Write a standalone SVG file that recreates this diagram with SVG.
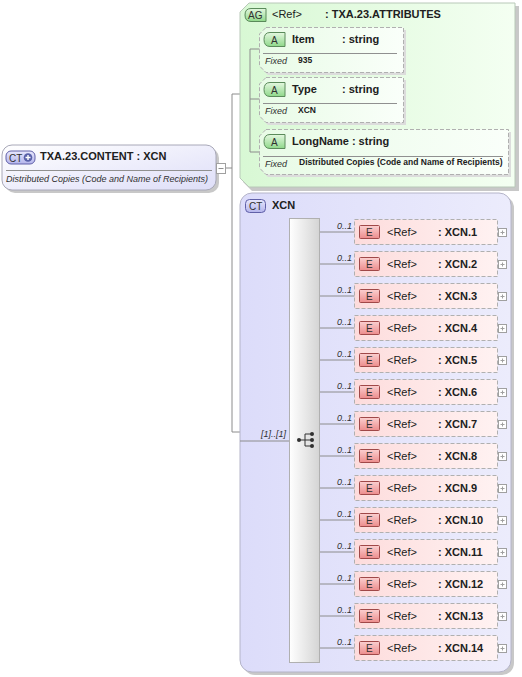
<svg xmlns="http://www.w3.org/2000/svg" width="522" height="677" viewBox="0 0 522 677">
<defs>
<linearGradient id="gMain" x1="0" y1="0" x2="1" y2="1"><stop offset="0" stop-color="#ffffff"/><stop offset="1" stop-color="#dedef8"/></linearGradient>
<linearGradient id="gCT" x1="0" y1="0" x2="1" y2="0"><stop offset="0" stop-color="#dcdcfa"/><stop offset="1" stop-color="#ececfc"/></linearGradient>
<linearGradient id="gAG" x1="0" y1="0" x2="1" y2="0"><stop offset="0" stop-color="#d8f8d4"/><stop offset="1" stop-color="#f4fff2"/></linearGradient>
<linearGradient id="gEl" x1="0" y1="0" x2="1" y2="0"><stop offset="0" stop-color="#fddcdc"/><stop offset="1" stop-color="#fff2f2"/></linearGradient>
<linearGradient id="gAttr" x1="0" y1="0" x2="1" y2="0"><stop offset="0" stop-color="#e8fbe6"/><stop offset="1" stop-color="#fafffa"/></linearGradient>
<linearGradient id="gBadgeA" x1="0" y1="0" x2="0" y2="1"><stop offset="0" stop-color="#e4f8e0"/><stop offset="1" stop-color="#8fd88a"/></linearGradient>
<linearGradient id="gBadgeE" x1="0" y1="0" x2="0" y2="1"><stop offset="0" stop-color="#fbd0d0"/><stop offset="1" stop-color="#ec8c8c"/></linearGradient>
<linearGradient id="gBadgeCT" x1="0" y1="0" x2="0" y2="1"><stop offset="0" stop-color="#e8e8fc"/><stop offset="1" stop-color="#b4b4ec"/></linearGradient>
<linearGradient id="gSeq" x1="0" y1="0" x2="1" y2="0"><stop offset="0" stop-color="#ffffff"/><stop offset="1" stop-color="#d4d4d4"/></linearGradient>
</defs>
<style>
text{font-family:"Liberation Sans",Arial,sans-serif;fill:#202020}
.b{font-weight:bold;font-size:11px}
.r{font-size:11px}
.it{font-style:italic;font-size:9px;fill:#303030}
.fv{font-weight:bold;font-size:8.5px}
.card{font-style:italic;font-size:9px;fill:#303030}
.ln{stroke:#8c8c8c;stroke-width:1;fill:none}
.sh{fill:#c8c8c8}
.elb{fill:url(#gEl);stroke:#b0b0b0;stroke-dasharray:4 2}
.atb{fill:url(#gAttr);stroke:#b0b0b0;stroke-dasharray:4 2}
.sep{stroke:#909090;stroke-width:1}
.bA{fill:url(#gBadgeA);stroke:#5a8a5a}
.bE{fill:url(#gBadgeE);stroke:#a04848}
.bCT{fill:url(#gBadgeCT);stroke:#6060a8}
.pl{fill:#ffffff;stroke:#a0a0a0}
.bt{font-size:10px;fill:#303030}
</style>

<g id="connectors">
<line class="ln" x1="225" y1="168" x2="232" y2="168"/>
<line class="ln" x1="232" y1="94" x2="232" y2="432"/>
<line class="ln" x1="232" y1="94" x2="250" y2="94"/>
<line class="ln" x1="232" y1="432" x2="240" y2="432"/>
</g>

<g id="main">
<rect class="sh" x="5" y="148" width="214" height="45" rx="10"/>
<rect x="2" y="145" width="214" height="45" rx="10" fill="url(#gMain)" stroke="#a8a8b8"/>
<rect class="bCT" x="6" y="151" width="29" height="13" rx="5"/>
<text x="9" y="161.5" class="bt">CT</text>
<circle cx="28" cy="157.5" r="4.3" fill="#5860a8"/>
<path d="M25.5 157.5h5M28 155v5" stroke="#ffffff" stroke-width="1.4"/>
<text x="40" y="160" class="b">TXA.23.CONTENT : XCN</text>
<line class="sep" x1="6" y1="170.5" x2="212" y2="170.5"/>
<text x="6" y="182" class="it">Distributed Copies (Code and Name of Recipients)</text>
<rect class="pl" x="216.5" y="163.5" width="9" height="10"/>
<line x1="218.5" y1="168.5" x2="223.5" y2="168.5" stroke="#909090"/>
</g>

<g id="attrGroup">
<path class="sh" d="M252 6H519V191H252L243 182V15Z"/>
<path d="M249 3H515V187H249L240 178V12Z" fill="url(#gAG)" stroke="#b8c8b8"/>
<path class="bA" d="M251 8.5H266V21.5H251Q245 21.5 245 15Q245 8.5 251 8.5Z"/>
<text x="248" y="19" class="bt">AG</text>
<text x="272" y="18" class="r">&lt;Ref&gt;</text>
<text x="325" y="18" class="b">: TXA.23.ATTRIBUTES</text>
<line class="ln" x1="250" y1="49" x2="250" y2="152"/>
<line class="ln" x1="250" y1="49" x2="260" y2="49"/>
<line class="ln" x1="250" y1="99" x2="260" y2="99"/>
<line class="ln" x1="250" y1="152" x2="260" y2="152"/>
</g>

<g id="attrItem">
<path d="M268 30H406V75H268L261 68V37Z" fill="#dcdcdc"/>
<path class="atb" d="M266 27.5H403.5V72.5H266L259.5 66V34Z"/>
<path class="bA" d="M270 32.5H285V46.5H270Q264 46.5 264 39.5Q264 32.5 270 32.5Z"/>
<text x="271" y="44" class="bt">A</text>
<text x="292" y="43" class="b">Item</text>
<text x="342" y="43" class="b">: string</text>
<line class="sep" x1="263" y1="53.5" x2="397" y2="53.5"/>
<text x="265" y="64" class="it">Fixed</text>
<text x="298" y="63" class="fv">935</text>
</g>

<g id="attrType">
<path d="M268 80H406V125H268L261 118V87Z" fill="#dcdcdc"/>
<path class="atb" d="M266 77.5H403.5V122.5H266L259.5 116V84Z"/>
<path class="bA" d="M270 82.5H285V96.5H270Q264 96.5 264 89.5Q264 82.5 270 82.5Z"/>
<text x="271" y="94" class="bt">A</text>
<text x="292" y="93" class="b">Type</text>
<text x="342" y="93" class="b">: string</text>
<line class="sep" x1="263" y1="103.5" x2="397" y2="103.5"/>
<text x="265" y="114" class="it">Fixed</text>
<text x="298" y="113" class="fv">XCN</text>
</g>

<g id="attrLongName">
<path d="M268 132H511V177H268L261 170V139Z" fill="#dcdcdc"/>
<path class="atb" d="M266 129.5H508.5V174.5H266L259.5 168V136Z"/>
<path class="bA" d="M270 134.5H285V148.5H270Q264 148.5 264 141.5Q264 134.5 270 134.5Z"/>
<text x="271" y="146" class="bt">A</text>
<text x="292" y="145" class="b">LongName : string</text>
<line class="sep" x1="263" y1="156.5" x2="503" y2="156.5"/>
<text x="265" y="167" class="it">Fixed</text>
<text x="299" y="165" class="fv">Distributed Copies (Code and Name of Recipients)</text>
</g>

<g id="ctXCN">
<rect class="sh" x="243" y="196" width="271" height="479" rx="12"/>
<rect x="240" y="193" width="271" height="479" rx="12" fill="url(#gCT)" stroke="#b4b4c8"/>
<rect class="bCT" x="245.5" y="199.5" width="20" height="13" rx="4"/>
<text x="249" y="210" class="bt">CT</text>
<text x="272" y="209" class="b">XCN</text>
<line class="ln" x1="240" y1="441" x2="290" y2="441"/>
<text x="286" y="437" class="card" text-anchor="end">[1]..[1]</text>
</g>

<g id="sequence">
<rect x="289.5" y="218.5" width="30" height="444" fill="url(#gSeq)" stroke="#b0b0b0"/>
<circle cx="299" cy="440" r="2" fill="#303030"/>
<path d="M299 440H305M305 434V446M305 434H311M305 440H311M305 446H311" stroke="#303030" stroke-width="1"/>
<circle cx="312" cy="434" r="2" fill="#303030"/>
<circle cx="312" cy="440" r="2" fill="#303030"/>
<circle cx="312" cy="446" r="2" fill="#303030"/>
</g>

<g id="elementRows">
<g id="xcn1" transform="translate(0,0)"><line class="ln" x1="320" y1="232" x2="355" y2="232"/><text x="352" y="229" class="card" text-anchor="end">0..1</text><rect class="elb" x="354.5" y="219.5" width="143" height="25"/><rect class="bE" x="359.5" y="225.5" width="20" height="13" rx="1"/><text x="366" y="236" class="bt">E</text><text x="387" y="236" class="r">&lt;Ref&gt;</text><text x="438" y="236" class="b">: XCN.1</text><rect class="pl" x="498.5" y="228.5" width="8" height="8"/><path d="M500.5 232.5h4M502.5 230.5v4" stroke="#a0a0a0"/></g>
<g id="xcn2" transform="translate(0,32)"><line class="ln" x1="320" y1="232" x2="355" y2="232"/><text x="352" y="229" class="card" text-anchor="end">0..1</text><rect class="elb" x="354.5" y="219.5" width="143" height="25"/><rect class="bE" x="359.5" y="225.5" width="20" height="13" rx="1"/><text x="366" y="236" class="bt">E</text><text x="387" y="236" class="r">&lt;Ref&gt;</text><text x="438" y="236" class="b">: XCN.2</text><rect class="pl" x="498.5" y="228.5" width="8" height="8"/><path d="M500.5 232.5h4M502.5 230.5v4" stroke="#a0a0a0"/></g>
<g id="xcn3" transform="translate(0,64)"><line class="ln" x1="320" y1="232" x2="355" y2="232"/><text x="352" y="229" class="card" text-anchor="end">0..1</text><rect class="elb" x="354.5" y="219.5" width="143" height="25"/><rect class="bE" x="359.5" y="225.5" width="20" height="13" rx="1"/><text x="366" y="236" class="bt">E</text><text x="387" y="236" class="r">&lt;Ref&gt;</text><text x="438" y="236" class="b">: XCN.3</text><rect class="pl" x="498.5" y="228.5" width="8" height="8"/><path d="M500.5 232.5h4M502.5 230.5v4" stroke="#a0a0a0"/></g>
<g id="xcn4" transform="translate(0,96)"><line class="ln" x1="320" y1="232" x2="355" y2="232"/><text x="352" y="229" class="card" text-anchor="end">0..1</text><rect class="elb" x="354.5" y="219.5" width="143" height="25"/><rect class="bE" x="359.5" y="225.5" width="20" height="13" rx="1"/><text x="366" y="236" class="bt">E</text><text x="387" y="236" class="r">&lt;Ref&gt;</text><text x="438" y="236" class="b">: XCN.4</text><rect class="pl" x="498.5" y="228.5" width="8" height="8"/><path d="M500.5 232.5h4M502.5 230.5v4" stroke="#a0a0a0"/></g>
<g id="xcn5" transform="translate(0,128)"><line class="ln" x1="320" y1="232" x2="355" y2="232"/><text x="352" y="229" class="card" text-anchor="end">0..1</text><rect class="elb" x="354.5" y="219.5" width="143" height="25"/><rect class="bE" x="359.5" y="225.5" width="20" height="13" rx="1"/><text x="366" y="236" class="bt">E</text><text x="387" y="236" class="r">&lt;Ref&gt;</text><text x="438" y="236" class="b">: XCN.5</text><rect class="pl" x="498.5" y="228.5" width="8" height="8"/><path d="M500.5 232.5h4M502.5 230.5v4" stroke="#a0a0a0"/></g>
<g id="xcn6" transform="translate(0,160)"><line class="ln" x1="320" y1="232" x2="355" y2="232"/><text x="352" y="229" class="card" text-anchor="end">0..1</text><rect class="elb" x="354.5" y="219.5" width="143" height="25"/><rect class="bE" x="359.5" y="225.5" width="20" height="13" rx="1"/><text x="366" y="236" class="bt">E</text><text x="387" y="236" class="r">&lt;Ref&gt;</text><text x="438" y="236" class="b">: XCN.6</text><rect class="pl" x="498.5" y="228.5" width="8" height="8"/><path d="M500.5 232.5h4M502.5 230.5v4" stroke="#a0a0a0"/></g>
<g id="xcn7" transform="translate(0,192)"><line class="ln" x1="320" y1="232" x2="355" y2="232"/><text x="352" y="229" class="card" text-anchor="end">0..1</text><rect class="elb" x="354.5" y="219.5" width="143" height="25"/><rect class="bE" x="359.5" y="225.5" width="20" height="13" rx="1"/><text x="366" y="236" class="bt">E</text><text x="387" y="236" class="r">&lt;Ref&gt;</text><text x="438" y="236" class="b">: XCN.7</text><rect class="pl" x="498.5" y="228.5" width="8" height="8"/><path d="M500.5 232.5h4M502.5 230.5v4" stroke="#a0a0a0"/></g>
<g id="xcn8" transform="translate(0,224)"><line class="ln" x1="320" y1="232" x2="355" y2="232"/><text x="352" y="229" class="card" text-anchor="end">0..1</text><rect class="elb" x="354.5" y="219.5" width="143" height="25"/><rect class="bE" x="359.5" y="225.5" width="20" height="13" rx="1"/><text x="366" y="236" class="bt">E</text><text x="387" y="236" class="r">&lt;Ref&gt;</text><text x="438" y="236" class="b">: XCN.8</text><rect class="pl" x="498.5" y="228.5" width="8" height="8"/><path d="M500.5 232.5h4M502.5 230.5v4" stroke="#a0a0a0"/></g>
<g id="xcn9" transform="translate(0,256)"><line class="ln" x1="320" y1="232" x2="355" y2="232"/><text x="352" y="229" class="card" text-anchor="end">0..1</text><rect class="elb" x="354.5" y="219.5" width="143" height="25"/><rect class="bE" x="359.5" y="225.5" width="20" height="13" rx="1"/><text x="366" y="236" class="bt">E</text><text x="387" y="236" class="r">&lt;Ref&gt;</text><text x="438" y="236" class="b">: XCN.9</text><rect class="pl" x="498.5" y="228.5" width="8" height="8"/><path d="M500.5 232.5h4M502.5 230.5v4" stroke="#a0a0a0"/></g>
<g id="xcn10" transform="translate(0,288)"><line class="ln" x1="320" y1="232" x2="355" y2="232"/><text x="352" y="229" class="card" text-anchor="end">0..1</text><rect class="elb" x="354.5" y="219.5" width="143" height="25"/><rect class="bE" x="359.5" y="225.5" width="20" height="13" rx="1"/><text x="366" y="236" class="bt">E</text><text x="387" y="236" class="r">&lt;Ref&gt;</text><text x="438" y="236" class="b">: XCN.10</text><rect class="pl" x="498.5" y="228.5" width="8" height="8"/><path d="M500.5 232.5h4M502.5 230.5v4" stroke="#a0a0a0"/></g>
<g id="xcn11" transform="translate(0,320)"><line class="ln" x1="320" y1="232" x2="355" y2="232"/><text x="352" y="229" class="card" text-anchor="end">0..1</text><rect class="elb" x="354.5" y="219.5" width="143" height="25"/><rect class="bE" x="359.5" y="225.5" width="20" height="13" rx="1"/><text x="366" y="236" class="bt">E</text><text x="387" y="236" class="r">&lt;Ref&gt;</text><text x="438" y="236" class="b">: XCN.11</text><rect class="pl" x="498.5" y="228.5" width="8" height="8"/><path d="M500.5 232.5h4M502.5 230.5v4" stroke="#a0a0a0"/></g>
<g id="xcn12" transform="translate(0,352)"><line class="ln" x1="320" y1="232" x2="355" y2="232"/><text x="352" y="229" class="card" text-anchor="end">0..1</text><rect class="elb" x="354.5" y="219.5" width="143" height="25"/><rect class="bE" x="359.5" y="225.5" width="20" height="13" rx="1"/><text x="366" y="236" class="bt">E</text><text x="387" y="236" class="r">&lt;Ref&gt;</text><text x="438" y="236" class="b">: XCN.12</text><rect class="pl" x="498.5" y="228.5" width="8" height="8"/><path d="M500.5 232.5h4M502.5 230.5v4" stroke="#a0a0a0"/></g>
<g id="xcn13" transform="translate(0,384)"><line class="ln" x1="320" y1="232" x2="355" y2="232"/><text x="352" y="229" class="card" text-anchor="end">0..1</text><rect class="elb" x="354.5" y="219.5" width="143" height="25"/><rect class="bE" x="359.5" y="225.5" width="20" height="13" rx="1"/><text x="366" y="236" class="bt">E</text><text x="387" y="236" class="r">&lt;Ref&gt;</text><text x="438" y="236" class="b">: XCN.13</text><rect class="pl" x="498.5" y="228.5" width="8" height="8"/><path d="M500.5 232.5h4M502.5 230.5v4" stroke="#a0a0a0"/></g>
<g id="xcn14" transform="translate(0,416)"><line class="ln" x1="320" y1="232" x2="355" y2="232"/><text x="352" y="229" class="card" text-anchor="end">0..1</text><rect class="elb" x="354.5" y="219.5" width="143" height="25"/><rect class="bE" x="359.5" y="225.5" width="20" height="13" rx="1"/><text x="366" y="236" class="bt">E</text><text x="387" y="236" class="r">&lt;Ref&gt;</text><text x="438" y="236" class="b">: XCN.14</text><rect class="pl" x="498.5" y="228.5" width="8" height="8"/><path d="M500.5 232.5h4M502.5 230.5v4" stroke="#a0a0a0"/></g>
</g>
</svg>
